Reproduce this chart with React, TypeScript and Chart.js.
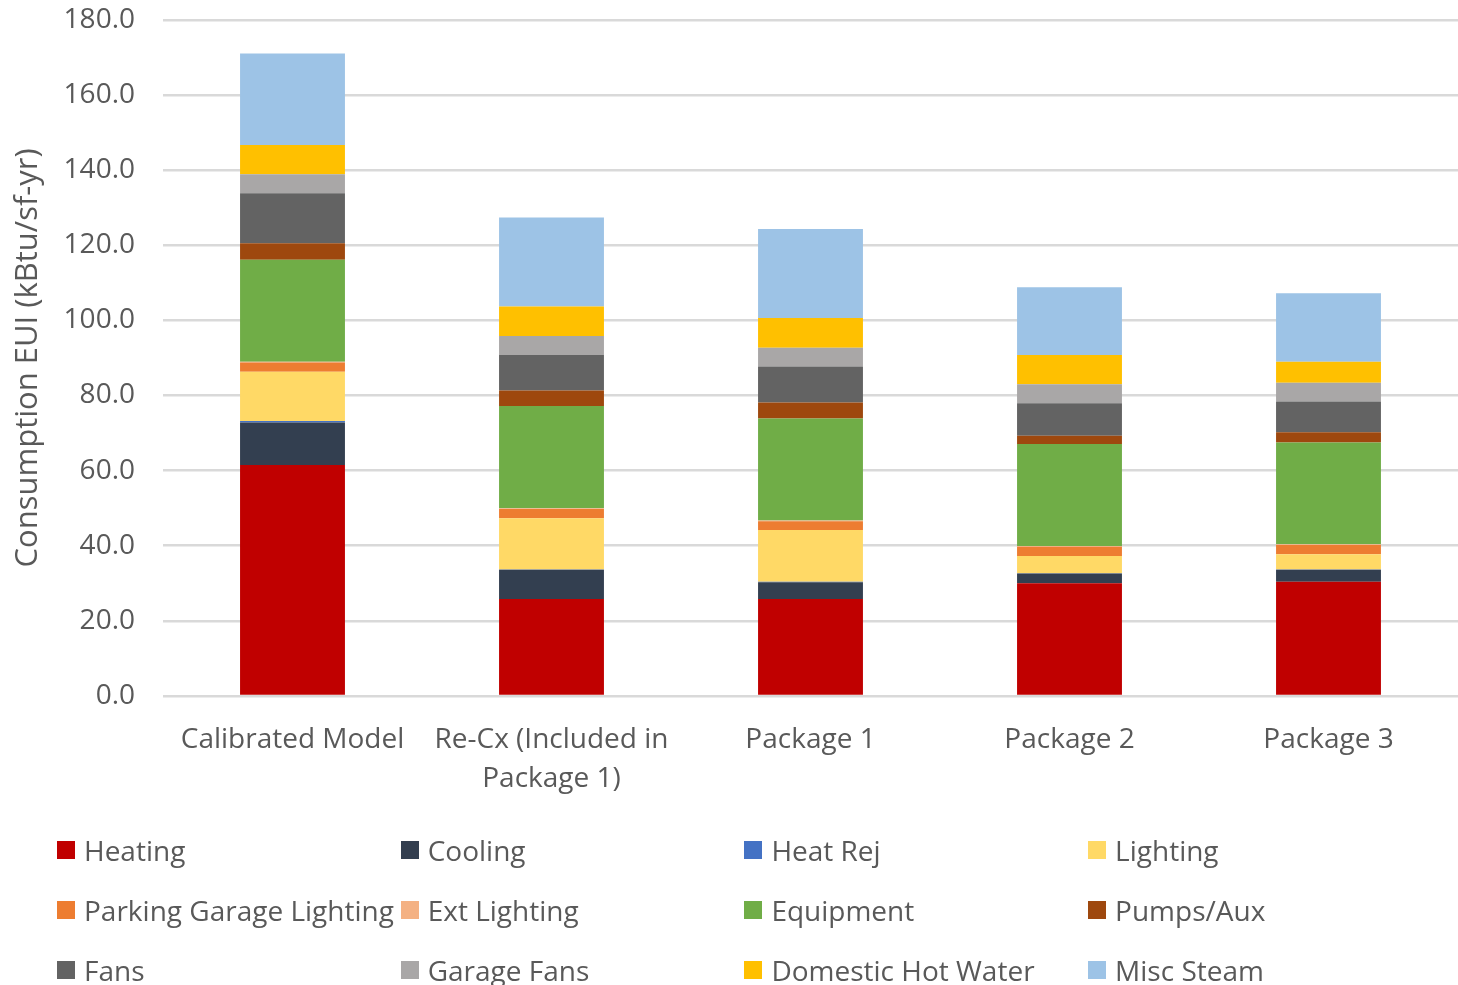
import React, { useEffect, useRef } from "react";
import { Chart, registerables } from "chart.js";

Chart.register(...registerables);

const categories: string[][] = [
  ["Calibrated Model"],
  ["Re-Cx (Included in", "Package 1)"],
  ["Package 1"],
  ["Package 2"],
  ["Package 3"],
];

const seriesNames = [
  "Heating",
  "Cooling",
  "Heat Rej",
  "Lighting",
  "Parking Garage Lighting",
  "Ext Lighting",
  "Equipment",
  "Pumps/Aux",
  "Fans",
  "Garage Fans",
  "Domestic Hot Water",
  "Misc Steam",
];

const seriesColors = [
  "#C00000",
  "#333F50",
  "#4472C4",
  "#FFD966",
  "#ED7D31",
  "#F4B183",
  "#70AD47",
  "#9E480E",
  "#636363",
  "#A9A7A7",
  "#FFC000",
  "#9DC3E6",
];

const heating = [61.5, 25.8, 25.8, 30.0, 30.4];
const cooling = [11.3, 7.8, 4.5, 2.6, 3.2];
const heatRej = [0.4, 0.1, 0.1, 0.1, 0.1];
const lighting = [13.1, 13.6, 13.8, 4.6, 4.0];
const parkingGarageLighting = [2.5, 2.5, 2.3, 2.4, 2.5];
const extLighting = [0.2, 0.2, 0.2, 0.2, 0.2];
const equipment = [27.1, 27.2, 27.2, 27.2, 27.1];
const pumpsAux = [4.4, 4.1, 4.2, 2.2, 2.7];
const fans = [13.3, 9.5, 9.6, 8.6, 8.2];
const garageFans = [5.1, 5.0, 5.0, 5.1, 5.0];
const domesticHotWater = [7.8, 7.9, 7.9, 7.8, 5.6];
const miscSteam = [24.3, 23.7, 23.7, 18.0, 18.2];

const seriesValues = [
  heating,
  cooling,
  heatRej,
  lighting,
  parkingGarageLighting,
  extLighting,
  equipment,
  pumpsAux,
  fans,
  garageFans,
  domesticHotWater,
  miscSteam,
];

const yMin = 0;
const yMax = 180;
const yStep = 20;
const yTitle = "Consumption EUI (kBtu/sf-yr)";

const FONT = "'Open Sans', 'Noto Sans', sans-serif";
const TEXT = "#595959";

export default function App() {
  const ref = useRef<HTMLCanvasElement | null>(null);

  useEffect(() => {
    if (!ref.current) return;
    const chart = new Chart(ref.current, {
      type: "bar",
      data: {
        labels: categories,
        datasets: seriesNames.map((name, i) => ({
          label: name,
          data: seriesValues[i],
          backgroundColor: seriesColors[i],
          borderWidth: 0,
          categoryPercentage: 1,
          barPercentage: 0.405,
        })),
      },
      options: {
        responsive: false,
        animation: false,
        layout: { padding: { top: 0, right: 0, left: 0, bottom: 179 } },
        plugins: {
          legend: { display: false },
          tooltip: { enabled: false },
        },
        scales: {
          x: {
            stacked: true,
            grid: { display: false },
            border: { display: false },
            ticks: {
              color: TEXT,
              font: { family: FONT, size: 28, lineHeight: 1.4 },
              padding: 16,
              maxRotation: 0,
              autoSkip: false,
            },
            afterFit: (s: any) => {
              s.height = 110;
            },
          },
          y: {
            stacked: true,
            min: yMin,
            max: yMax,
            grid: {
              color: "#D9D9D9",
              lineWidth: 2.5,
              drawTicks: true,
              tickLength: 25,
              tickColor: "rgba(0,0,0,0)",
            },
            border: { display: false },
            ticks: {
              stepSize: yStep,
              color: TEXT,
              font: { family: FONT, size: 28 },
              padding: 3,
              callback: (v: any) => Number(v).toFixed(1),
            },
            title: {
              display: true,
              text: yTitle,
              color: TEXT,
              font: { family: FONT, size: 31 },
              padding: { top: 10, bottom: 0 },
            },
            afterFit: (s: any) => {
              s.width = 163;
            },
          },
        },
      },
    });
    return () => chart.destroy();
  }, []);

  return (
    <div style={{ position: "fixed", left: 0, top: 0, width: 1458, height: 985, background: "#fff" }}>
      <canvas ref={ref} width={1458} height={985} style={{ display: "block" }} />
      {seriesNames.map((name, i) => {
        const col = i % 4;
        const row = Math.floor(i / 4);
        return (
          <div
            key={name}
            style={{
              position: "absolute",
              left: 57 + col * 343.7,
              top: 850 + row * 60 - 20,
              height: 40,
              display: "flex",
              alignItems: "center",
              fontFamily: FONT,
              fontSize: 28,
              color: TEXT,
              whiteSpace: "nowrap",
            }}
          >
            <span
              style={{
                display: "inline-block",
                width: 18,
                height: 18,
                background: seriesColors[i],
                marginRight: 9,
              }}
            />
            {name}
          </div>
        );
      })}
    </div>
  );
}
